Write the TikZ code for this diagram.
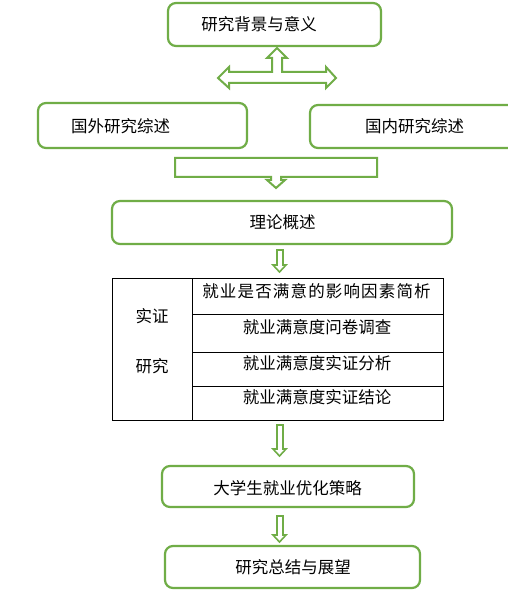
\documentclass[tikz,border=0pt]{standalone}
\usepackage{fontspec}
\newfontfamily\cjk{Noto Sans CJK SC}
\newfontfamily\cjkwide[LetterSpace=7]{Noto Sans CJK SC}
\definecolor{gr}{RGB}{112,173,71}
\begin{document}
\begin{tikzpicture}[x=1pt,y=-1pt,
  gbox/.style={draw=gr,line width=2.2pt,rounded corners=8pt,fill=white,inner sep=0pt},
  garrow/.style={draw=gr,line width=2pt,fill=white,line join=miter},
  txt/.style={font=\cjk\fontsize{16.5}{18}\selectfont,inner sep=0pt,text=black},
  cell/.style={draw=black,line width=0.9pt,inner sep=0pt}]
\useasboundingbox (0,0) rectangle (507,593);
\fill[white] (0,0) rectangle (507,593);
% top box
\node[gbox,minimum width=213pt,minimum height=43pt] (bg) at (274.5,24.5) {};
\node[txt] (bgt) at (259,24.5) {研究背景与意义};
% four-way arrow
\draw[garrow] (277,48) -- (287,58) -- (282,58) -- (282,72) -- (326,72) -- (326,67) -- (336,78)
  -- (326,88) -- (326,83) -- (229,83) -- (229,88) -- (218,78) -- (229,67) -- (229,72)
  -- (272,72) -- (272,58) -- (267,58) -- cycle;
% left and right boxes
\node[gbox,minimum width=209pt,minimum height=45pt] (gw) at (142.5,125.5) {};
\node[txt] (gwt) at (120.5,126) {国外研究综述};
\node[gbox,minimum width=210pt,minimum height=43pt] (gn) at (415,126.5) {};
\node[txt] (gnt) at (414.5,126) {国内研究综述};
% bar arrow
\draw[garrow] (175,158) -- (377,158) -- (377,177) -- (281,177) -- (281,180) -- (285,180) -- (276,188)
  -- (267,180) -- (271,180) -- (271,177) -- (175,177) -- cycle;
% theory box
\node[gbox,minimum width=340pt,minimum height=43pt] (ll) at (282,222.5) {};
\node[txt] (llt) at (282.5,222) {理论概述};
% small arrow 1
\draw[garrow,line width=1.6pt] (277,250) -- (283,250) -- (283,265) -- (286,265) -- (279.5,272)
  -- (273,265) -- (277,265) -- cycle;
% table
\node[cell,minimum width=80pt,minimum height=142pt] (lc) at (152,349) {};
\node[cell,minimum width=251pt,minimum height=36pt] (r1) at (317.5,296) {};
\node[cell,minimum width=251pt,minimum height=38pt] (r2) at (317.5,333) {};
\node[cell,minimum width=251pt,minimum height=34pt] (r3) at (317.5,369) {};
\node[cell,minimum width=251pt,minimum height=34pt] (r4) at (317.5,403) {};
\node[txt] (sz) at (152,316) {实证};
\node[txt] (yj) at (152,366) {研究};
\node[txt,font=\cjkwide\fontsize{16.5}{18}\selectfont] (t1) at (316.5,291) {就业是否满意的影响因素简析};
\node[txt] (t2) at (317,327) {就业满意度问卷调查};
\node[txt] (t3) at (317,363) {就业满意度实证分析};
\node[txt] (t4) at (317,397) {就业满意度实证结论};
% small arrow 2
\draw[garrow,line width=1.6pt] (277,425) -- (283,425) -- (283,449) -- (286,449) -- (279.5,456)
  -- (273,449) -- (277,449) -- cycle;
% strategy box
\node[gbox,minimum width=252pt,minimum height=41pt] (dx) at (288,486.5) {};
\node[txt] (dxt) at (287.5,488) {大学生就业优化策略};
% small arrow 3
\draw[garrow,line width=1.6pt] (277,516) -- (283,516) -- (283,535) -- (286,535) -- (279.5,542)
  -- (273,535) -- (277,535) -- cycle;
% summary box
\node[gbox,minimum width=255pt,minimum height=42pt] (zj) at (292.5,567) {};
\node[txt] (zjt) at (293,567) {研究总结与展望};
\end{tikzpicture}
\end{document}
